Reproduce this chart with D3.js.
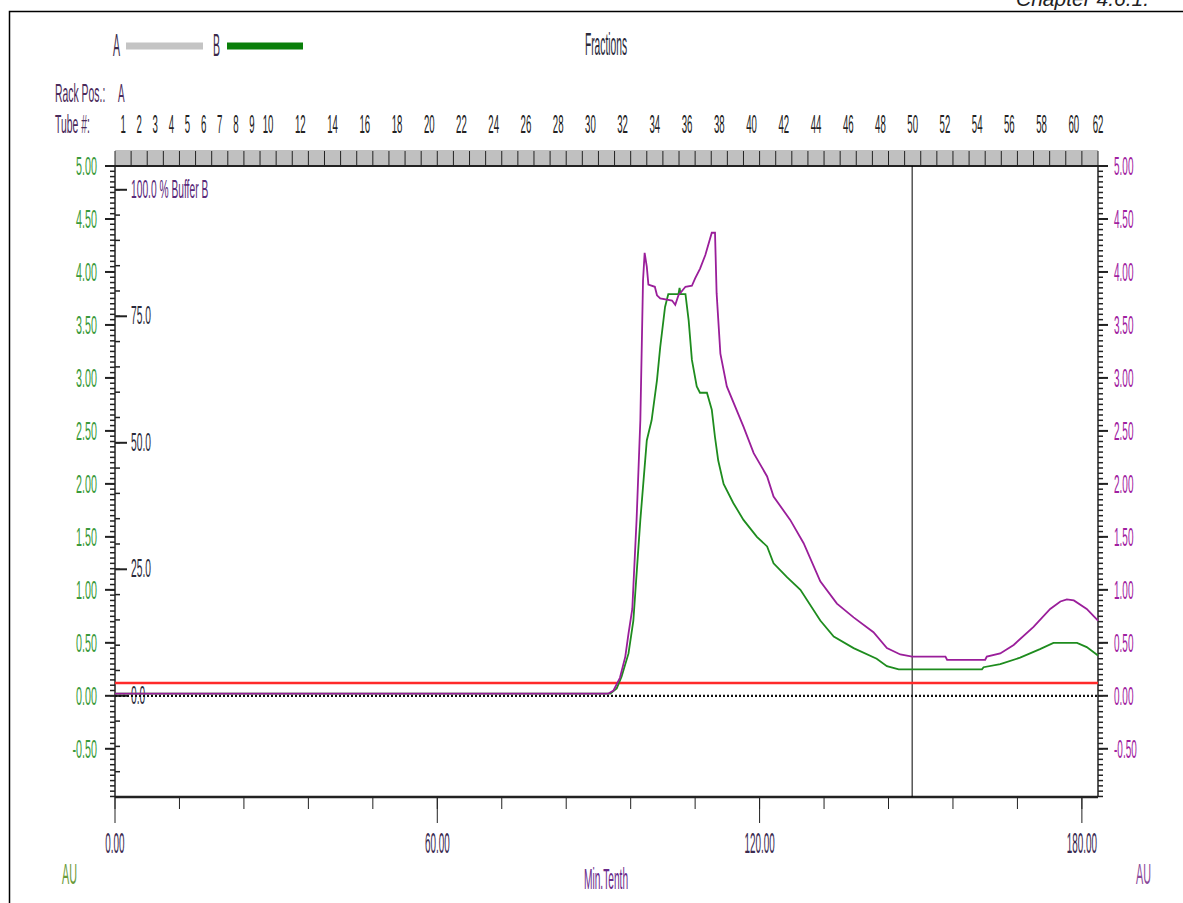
<!DOCTYPE html>
<html>
<head>
<meta charset="utf-8">
<script src="https://cdn.jsdelivr.net/npm/d3@7"></script>
<style>
  html, body { margin: 0; padding: 0; background: #fff; }
  svg { display: block; font-family: "Liberation Sans", Arial, sans-serif; }
</style>
</head>
<body>
<div id="chart"></div>
<script>
// --- data (time in Min.Tenth, absorbance in AU) ---
const purpleTrace = [
  [0, 0.02], [91.8, 0.02], [92.8, 0.05], [94.0, 0.17], [95.0, 0.37], [95.6, 0.59],
  [96.3, 0.82], [97.1, 1.66], [97.8, 2.60], [98.3, 3.92], [98.6, 4.18], [99.0, 4.05],
  [99.3, 3.88], [100.5, 3.86], [100.9, 3.78], [101.5, 3.75], [103.7, 3.73], [104.3, 3.69],
  [104.9, 3.78], [106.2, 3.86], [107.4, 3.87], [108.0, 3.94], [108.9, 4.03], [109.9, 4.16],
  [111.1, 4.37], [111.7, 4.37], [112.0, 3.80], [112.7, 3.23], [113.9, 2.92], [117.0, 2.54],
  [118.9, 2.29], [121.4, 2.07], [122.6, 1.88], [125.7, 1.66], [128.2, 1.44], [131.3, 1.08],
  [134.4, 0.87], [137.5, 0.74], [141.2, 0.60], [143.7, 0.45], [146.2, 0.39], [148.4, 0.37],
  [154.6, 0.37], [154.9, 0.34], [162.0, 0.34], [162.3, 0.37], [164.8, 0.40], [167.3, 0.48],
  [171.0, 0.65], [174.1, 0.82], [176.0, 0.89], [177.2, 0.91], [178.5, 0.90], [180.9, 0.82],
  [183.0, 0.71]
];
const greenTrace = [
  [0, 0.02], [92.2, 0.02], [93.4, 0.07], [94.3, 0.18], [95.6, 0.40], [96.5, 0.71],
  [97.8, 1.66], [99.0, 2.41], [99.9, 2.60], [100.9, 2.98], [101.5, 3.29], [102.4, 3.67],
  [102.7, 3.73], [103.0, 3.79], [104.9, 3.79], [105.1, 3.85], [105.3, 3.79], [106.2, 3.79],
  [106.8, 3.54], [107.4, 3.17], [108.3, 2.92], [108.9, 2.86], [110.2, 2.86], [111.1, 2.70],
  [111.7, 2.44], [112.3, 2.22], [113.3, 2.00], [115.1, 1.82], [117.0, 1.66], [119.5, 1.50],
  [121.4, 1.41], [122.6, 1.25], [125.1, 1.12], [127.6, 1.00], [131.3, 0.71], [133.8, 0.56],
  [137.5, 0.45], [141.8, 0.35], [143.7, 0.28], [145.9, 0.25], [161.4, 0.25], [161.7, 0.27],
  [164.8, 0.30], [168.5, 0.36], [172.2, 0.44], [174.7, 0.50], [179.1, 0.50], [180.9, 0.46],
  [183.0, 0.38]
];
const bufferBTrace = [[0, 0], [183, 0]];        // % Buffer B
const thresholdAU = 0.12;                        // red line
const markerTime = 148.4;                        // vertical marker
const auTicks = [-0.5, 0, 0.5, 1, 1.5, 2, 2.5, 3, 3.5, 4, 4.5, 5];
const bufferTicks = [0, 25, 50, 75, 100];
const timeTicks = [0, 60, 120, 180];
const tubeLabels = [1, 2, 3, 4, 5, 6, 7, 8, 9, 10, 12, 14, 16, 18, 20, 22, 24, 26, 28, 30,
  32, 34, 36, 38, 40, 42, 44, 46, 48, 50, 52, 54, 56, 58, 60, 62];
const tubeVolume = 3;

const W = 1183, H = 903;
const L = 115, R = 1098, T = 166, B = 797;

const svg = d3.select("#chart").append("svg").attr("width", W).attr("height", H);

const x = d3.scaleLinear().domain([0, 183]).range([L, R]);
const y = d3.scaleLinear().domain([-0.955, 5]).range([B, T]);
const yB = d3.scaleLinear().domain([-20, 104.7]).range([B, T]);

function label(parent, px, py, str, o) {
  return parent.append("text")
    .attr("transform", `translate(${px},${py}) scale(${o.sx || 0.4},1)`)
    .attr("text-anchor", o.anchor || "start")
    .attr("font-size", o.size || 25)
    .attr("fill", o.fill || "#222")
    .attr("font-style", o.italic ? "italic" : null)
    .text(str);
}

// frame + header
svg.append("path").attr("d", `M9.5,${H} V11.5 H${W}`).attr("fill", "none").attr("stroke", "#000").attr("stroke-width", 1.5);
label(svg, 1016, 6, "Chapter  4.6.1.", { size: 21, sx: 1, italic: true, fill: "#222" });

// legend
label(svg, 113, 56, "A", { size: 32, sx: 0.33, fill: "#3a2a4a" });
svg.append("line").attr("x1", 126).attr("x2", 203).attr("y1", 46).attr("y2", 46).attr("stroke", "#c4c4c4").attr("stroke-width", 7);
label(svg, 213, 56, "B", { size: 32, sx: 0.33, fill: "#3a2a4a" });
svg.append("line").attr("x1", 227).attr("x2", 303).attr("y1", 46).attr("y2", 46).attr("stroke", "#0a7f0a").attr("stroke-width", 7);
label(svg, 606, 55, "Fractions", { size: 31, sx: 0.33, anchor: "middle", fill: "#2a2a3a" });

// rack / tube row
label(svg, 55, 102, "Rack Pos.:", { size: 26, sx: 0.4, fill: "#4a2a5a" });
label(svg, 118, 102, "A", { size: 26, sx: 0.38, fill: "#4a2a5a" });
label(svg, 55, 133, "Tube #:", { size: 26, sx: 0.4, fill: "#4a2a5a" });
tubeLabels.forEach(n => {
  const t = Math.min(tubeVolume * n - tubeVolume / 2, 183);
  label(svg, x(t), 133, String(n), { size: 26, sx: 0.37, anchor: "middle", fill: "#222" });
});

// fraction band
svg.append("rect").attr("x", L).attr("y", 150).attr("width", R - L).attr("height", T - 150).attr("fill", "#c0c0c0");
svg.append("g").selectAll("line")
  .data(d3.range(0, 183.01, tubeVolume))
  .join("line")
  .attr("x1", d => x(d)).attr("x2", d => x(d))
  .attr("y1", 151).attr("y2", T)
  .attr("stroke", "#222").attr("stroke-width", 1);

// left AU axis
const gL = svg.append("g");
gL.selectAll(".minor").data(d3.range(-0.95, 5.001, 0.05)).join("line")
  .attr("x1", L - 5).attr("x2", L).attr("y1", d => y(d)).attr("y2", d => y(d))
  .attr("stroke", "#222").attr("stroke-width", 1.5);
gL.selectAll(".major").data(auTicks).join("line")
  .attr("x1", L - 10).attr("x2", L).attr("y1", d => y(d)).attr("y2", d => y(d))
  .attr("stroke", "#222").attr("stroke-width", 2);
auTicks.forEach(v => label(gL, 97, y(v) + 9, v.toFixed(2), { size: 25, sx: 0.43, anchor: "end", fill: "#3a9a3a" }));

// % Buffer B axis (inside left)
const gB = svg.append("g");
gB.selectAll(".minor").data(d3.range(-20, 104.7, 5)).join("line")
  .attr("x1", L).attr("x2", L + 5).attr("y1", d => yB(d)).attr("y2", d => yB(d))
  .attr("stroke", "#222").attr("stroke-width", 1.5);
gB.selectAll(".major").data(bufferTicks).join("line")
  .attr("x1", L).attr("x2", L + 12).attr("y1", d => yB(d)).attr("y2", d => yB(d))
  .attr("stroke", "#222").attr("stroke-width", 2);
bufferTicks.forEach(v => label(gB, 131, yB(v) + 8, v.toFixed(1) + (v === 100 ? "  % Buffer B" : ""),
  { size: 25, sx: 0.41, fill: v === 100 ? "#5a2a7a" : "#2a2a3a" }));

// right AU axis
const gR = svg.append("g");
gR.selectAll(".minor").data(d3.range(-0.95, 5.001, 0.05)).join("line")
  .attr("x1", R).attr("x2", R + 5).attr("y1", d => y(d)).attr("y2", d => y(d))
  .attr("stroke", "#222").attr("stroke-width", 1.5);
gR.selectAll(".major").data(auTicks).join("line")
  .attr("x1", R).attr("x2", R + 10).attr("y1", d => y(d)).attr("y2", d => y(d))
  .attr("stroke", "#222").attr("stroke-width", 2);
auTicks.forEach(v => label(gR, 1114, y(v) + 9, v.toFixed(2), { size: 25, sx: 0.4, fill: "#a020a0" }));

// bottom time axis
const gX = svg.append("g");
gX.selectAll(".minor").data(d3.range(0, 183, 12)).join("line")
  .attr("x1", d => x(d)).attr("x2", d => x(d)).attr("y1", B).attr("y2", B + 12)
  .attr("stroke", "#222").attr("stroke-width", 1);
gX.selectAll(".major").data(timeTicks).join("line")
  .attr("x1", d => x(d)).attr("x2", d => x(d)).attr("y1", B).attr("y2", B + 26)
  .attr("stroke", "#222").attr("stroke-width", 1);
timeTicks.forEach(v => label(gX, x(v), 853, v.toFixed(2), { size: 30, sx: 0.33, anchor: "middle", fill: "#3a2a50" }));
label(svg, 606, 889, "Min.Tenth", { size: 30, sx: 0.34, anchor: "middle", fill: "#6a2a8a" });
label(svg, 62, 884, "AU", { size: 30, sx: 0.36, fill: "#6a9a3a" });
label(svg, 1136, 884, "AU", { size: 30, sx: 0.36, fill: "#8a4a9a" });

// plot frame lines
svg.append("line").attr("x1", L).attr("x2", L).attr("y1", T).attr("y2", B).attr("stroke", "#222").attr("stroke-width", 1.5);
svg.append("line").attr("x1", R).attr("x2", R).attr("y1", T).attr("y2", B).attr("stroke", "#222").attr("stroke-width", 1.5);
svg.append("line").attr("x1", L - 10).attr("x2", R + 10).attr("y1", T).attr("y2", T).attr("stroke", "#222").attr("stroke-width", 2);
svg.append("line").attr("x1", L).attr("x2", R).attr("y1", B).attr("y2", B).attr("stroke", "#222").attr("stroke-width", 2.5);

// marker + reference lines
svg.append("line").attr("x1", x(markerTime)).attr("x2", x(markerTime)).attr("y1", T).attr("y2", B)
  .attr("stroke", "#000").attr("stroke-width", 1);
svg.append("line").attr("x1", x(0)).attr("x2", x(183)).attr("y1", y(thresholdAU)).attr("y2", y(thresholdAU))
  .attr("stroke", "#ff2a2a").attr("stroke-width", 2.5);

const lineAU = d3.line().x(d => x(d[0])).y(d => y(d[1]));
const lineB = d3.line().x(d => x(d[0])).y(d => yB(d[1]));

svg.append("path").datum(bufferBTrace).attr("d", lineB)
  .attr("fill", "none").attr("stroke", "#111").attr("stroke-width", 2.2).attr("stroke-dasharray", "2,2");
svg.append("path").datum(greenTrace).attr("d", lineAU)
  .attr("fill", "none").attr("stroke", "#1e8c1e").attr("stroke-width", 1.8);
svg.append("path").datum(purpleTrace).attr("d", lineAU)
  .attr("fill", "none").attr("stroke", "#9a1e9a").attr("stroke-width", 1.8);
</script>
</body>
</html>
